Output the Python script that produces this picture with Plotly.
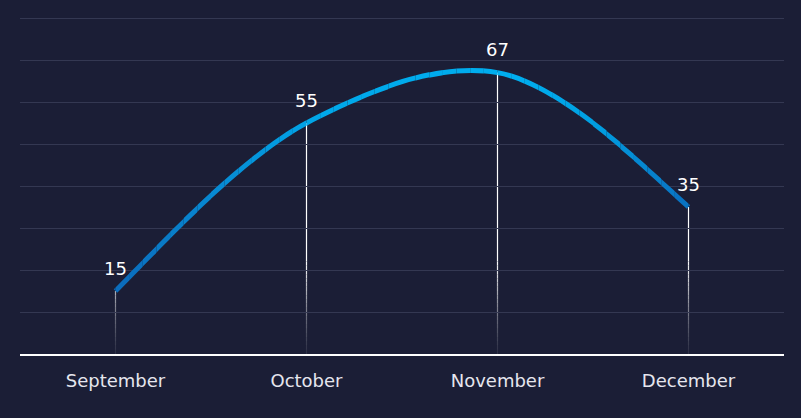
import plotly.graph_objects as go

# ---- data ----
months = ["September", "October", "November", "December"]
values = [15, 55, 67, 35]

# ---- style ----
BG = "#1b1e36"
GRID = "#343852"
FONT = "DejaVu Sans"
W, H = 801, 418
ML, MR, MT, MB = 20, 17, 16, 64
YTOP = (H - MT - MB) / 4.2   # slightly above 80 so the 80 gridline is drawn
XR = (-0.5, len(months) - 0.5)

xs = list(range(len(months)))

# colour stops of the line gradient along x (data units)
stops = [(0.0, (11, 107, 187)), (0.6, (6, 142, 214)), (1.1, (0, 168, 234)),
         (2.1, (0, 174, 239)), (2.5, (0, 160, 226)), (3.0, (10, 112, 192))]


def col_at(x):
    if x <= stops[0][0]:
        c = stops[0][1]
    elif x >= stops[-1][0]:
        c = stops[-1][1]
    else:
        for (a, ca), (b, cb) in zip(stops, stops[1:]):
            if a <= x <= b:
                t = (x - a) / (b - a)
                c = tuple(round(ca[i] + (cb[i] - ca[i]) * t) for i in range(3))
                break
    return "rgb(%d,%d,%d)" % c


fig = go.Figure()
layout = dict(
    width=W, height=H, paper_bgcolor=BG, plot_bgcolor="rgba(0,0,0,0)",
    margin=dict(l=ML, r=MR, t=MT, b=MB), showlegend=False,
    xaxis=dict(range=list(XR), tickvals=xs, ticktext=months, showgrid=False,
               zeroline=False, showline=True, linecolor="#ffffff", linewidth=2,
               ticks="", tickfont=dict(family=FONT, size=18, color="#e6e6ee"),
               ticklabelstandoff=9, domain=[0, 1]),
    yaxis=dict(range=[0, YTOP], dtick=10, showgrid=True, gridcolor=GRID,
               gridwidth=1, zeroline=False, showticklabels=False, ticks="",
               domain=[0, 1]),
)

# ---- drop lines with vertical fade (y-sliced sub-axes) ----
dx, dy = [], []
for x, v in zip(xs, values):
    dx += [x, x, None]
    dy += [v, 0, None]

fade_top = 22
n_fade = 22
bounds = [fade_top * i / n_fade for i in range(n_fade + 1)] + [YTOP]
ax_id = 2
for i in range(len(bounds) - 1):
    lo, hi = bounds[i], bounds[i + 1]
    frac = min(1.0, (lo + hi) / 2 / fade_top)
    alpha = 0.08 + 0.92 * frac ** 1.3
    name = "yaxis%d" % ax_id
    layout[name] = dict(range=[lo, hi], domain=[lo / YTOP, hi / YTOP],
                        anchor="x", visible=False, showgrid=False)
    fig.add_trace(go.Scatter(x=dx, y=dy, mode="lines", xaxis="x",
                             yaxis="y%d" % ax_id,
                             line=dict(color="rgba(255,255,255,%.3f)" % alpha, width=1.2),
                             hoverinfo="skip"))
    ax_id += 1

# ---- main curve with horizontal gradient (x-sliced sub-axes) ----
span = XR[1] - XR[0]
n_sl = 56
xa, xb = XR
for i in range(n_sl):
    a = xa + (xb - xa) * i / n_sl
    b = xa + (xb - xa) * (i + 1) / n_sl
    name = "xaxis%d" % ax_id
    layout[name] = dict(range=[a, b], domain=[(a - XR[0]) / span, (b - XR[0]) / span],
                        anchor="y", visible=False, showgrid=False)
    fig.add_trace(go.Scatter(x=xs, y=values, mode="lines", xaxis="x%d" % ax_id,
                             yaxis="y",
                             line=dict(color=col_at((a + b) / 2), width=5,
                                       shape="spline", smoothing=1, simplify=False),
                             hoverinfo="skip"))
    ax_id += 1

# ---- value labels ----
for x, v in zip(xs, values):
    fig.add_annotation(x=x, y=v, xref="x", yref="y", text=str(v), showarrow=False,
                       yshift=23, font=dict(family=FONT, size=18, color="#ffffff"))

fig.update_layout(**layout)
fig.write_html("out.html", config={"displayModeBar": False},
               post_script="document.body.style.margin='0';")
